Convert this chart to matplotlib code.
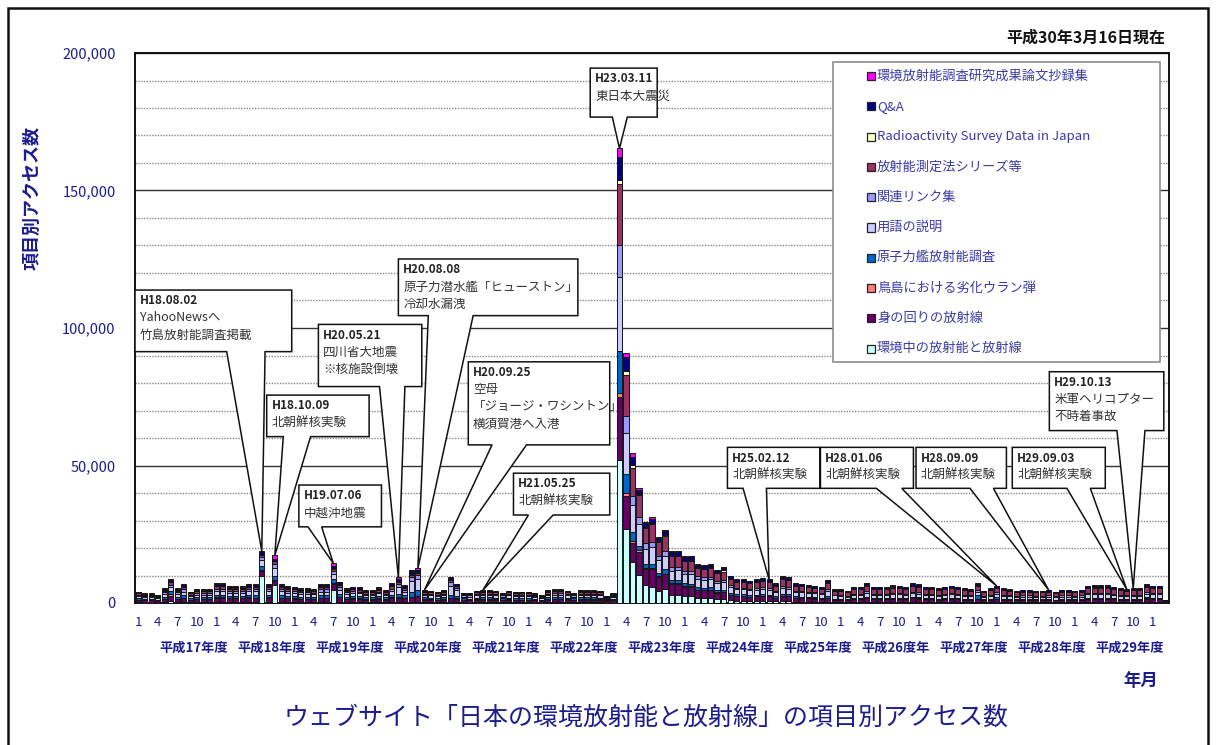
import matplotlib
matplotlib.use("Agg")
import matplotlib.pyplot as plt
from matplotlib.patches import Rectangle, Polygon

plt.rcParams["font.family"] = ["Noto Sans CJK JP", "DejaVu Sans"]

W, H = 1217, 745

# monthly page views, Jan 2005 (H17.01) .. Mar 2018 (H30.03), one line per calendar year
env_radiation = [  # 環境中の放射能と放射線
    200, 180, 170, 150, 270, 900, 270, 350, 200, 250, 240, 260,
    360, 350, 310, 300, 320, 350, 340, 9800, 350, 6500, 340, 310,
    300, 270, 260, 250, 340, 350, 4800, 500, 270, 290, 280, 240,
    230, 290, 240, 350, 500, 320, 400, 500, 220, 220, 200, 240,
    300, 300, 190, 180, 220, 240, 230, 230, 190, 220, 200, 210,
    200, 180, 150, 230, 250, 250, 220, 190, 230, 240, 230, 220,
    130, 180, 52000, 27000, 15000, 10200, 6500, 6000, 4500, 5000, 3000, 3000,
    2500, 2400, 1900, 1800, 1800, 1400, 1400, 1000, 800, 800, 700, 750,
    750, 700, 550, 700, 650, 500, 450, 400, 380, 350, 400, 300,
    250, 230, 300, 300, 370, 300, 300, 290, 330, 310, 300, 360,
    350, 300, 290, 270, 300, 310, 300, 270, 250, 360, 230, 270,
    300, 270, 250, 230, 240, 240, 230, 230, 240, 210, 240, 240,
    230, 240, 310, 330, 330, 330, 300, 270, 250, 270, 270, 350,
    310, 310, 60,
]
daily_radiation = [  # 身の回りの放射線
    900, 770, 780, 640, 1170, 1800, 1170, 1500, 900, 1100, 1120, 1090,
    1560, 1570, 1360, 1370, 1350, 1520, 1510, 2000, 1520, 1500, 1530, 1360,
    1300, 1170, 1160, 1120, 1500, 1490, 2200, 1700, 1170, 1300, 1260, 1030,
    1040, 1250, 1030, 1560, 1500, 1430, 1800, 1900, 1040, 990, 900, 1030,
    1500, 1300, 840, 830, 990, 1030, 1040, 990, 840, 1000, 900, 900,
    910, 770, 640, 1030, 1100, 1100, 990, 840, 1040, 1030, 1040, 990,
    570, 770, 23000, 12000, 7000, 8500, 6000, 6500, 5000, 5500, 4000, 4000,
    3500, 3500, 2900, 2800, 2900, 2400, 2500, 2000, 1700, 1700, 1600, 1700,
    1800, 1700, 1400, 1900, 1800, 1400, 1350, 1300, 1250, 1150, 1500, 950,
    900, 810, 1060, 1060, 1330, 1060, 1060, 1030, 1170, 1120, 1060, 1280,
    1240, 1060, 1030, 950, 1060, 1120, 1060, 950, 900, 1200, 810, 950,
    1000, 950, 900, 810, 850, 850, 810, 810, 850, 740, 850, 850,
    810, 850, 1120, 1170, 1170, 1170, 1060, 950, 900, 950, 950, 1240,
    1120, 1120, 200,
]
torishima_du = [  # 鳥島における劣化ウラン弾
    80, 70, 60, 60, 110, 400, 100, 140, 80, 100, 90, 100,
    140, 140, 120, 130, 120, 140, 140, 300, 140, 300, 130, 120,
    120, 100, 110, 100, 140, 130, 200, 150, 100, 120, 110, 90,
    90, 110, 100, 140, 150, 130, 150, 150, 90, 90, 80, 90,
    100, 100, 80, 70, 90, 90, 100, 90, 80, 90, 80, 80,
    80, 70, 60, 90, 100, 100, 90, 80, 90, 100, 90, 90,
    50, 70, 1500, 1000, 500, 400, 300, 300, 200, 200, 200, 150,
    150, 150, 100, 100, 100, 100, 100, 80, 70, 60, 60, 60,
    70, 60, 50, 70, 70, 50, 50, 50, 50, 40, 50, 40,
    50, 50, 60, 60, 70, 60, 60, 60, 70, 60, 60, 70,
    70, 60, 60, 50, 60, 60, 60, 50, 50, 70, 50, 50,
    60, 50, 50, 50, 50, 50, 50, 50, 50, 40, 50, 50,
    50, 50, 60, 70, 70, 70, 60, 50, 50, 50, 50, 70,
    60, 60, 10,
]
nuclear_ship = [  # 原子力艦放射能調査
    570, 490, 500, 410, 740, 1300, 750, 950, 570, 700, 690, 710,
    1000, 990, 870, 860, 880, 970, 960, 1500, 960, 1700, 970, 870,
    830, 740, 750, 720, 950, 960, 1500, 1100, 740, 830, 800, 660,
    650, 800, 660, 1000, 1000, 910, 1600, 2000, 660, 630, 570, 660,
    900, 800, 530, 540, 630, 660, 650, 630, 530, 630, 570, 580,
    570, 490, 400, 660, 700, 700, 630, 530, 660, 650, 660, 630,
    360, 490, 15000, 7000, 3500, 1800, 1500, 1500, 1300, 1500, 1000, 1100,
    1000, 1000, 900, 850, 900, 750, 800, 600, 550, 550, 520, 550,
    600, 600, 480, 700, 650, 480, 470, 440, 430, 400, 600, 340,
    300, 270, 350, 350, 440, 350, 350, 340, 390, 370, 350, 430,
    410, 350, 340, 320, 350, 370, 350, 320, 300, 1200, 270, 320,
    900, 320, 300, 270, 280, 280, 270, 270, 280, 250, 280, 280,
    270, 280, 370, 390, 390, 390, 350, 320, 300, 320, 320, 410,
    370, 370, 70,
]
glossary = [  # 用語の説明
    740, 630, 620, 520, 950, 1400, 950, 1220, 740, 900, 910, 890,
    1280, 1270, 1120, 1110, 1120, 1240, 1250, 2000, 1240, 2800, 1240, 1120,
    1060, 950, 960, 920, 1220, 1230, 1800, 1400, 950, 1070, 1030, 850,
    850, 1030, 840, 1280, 2500, 1170, 4000, 4000, 850, 810, 740, 850,
    3500, 2200, 680, 690, 810, 850, 840, 810, 680, 800, 740, 730,
    740, 630, 520, 850, 900, 900, 810, 680, 850, 850, 840, 810,
    470, 630, 27000, 15000, 9500, 8000, 5500, 6000, 4500, 5000, 3500, 3600,
    3300, 3400, 2900, 2800, 2900, 2500, 2700, 2000, 1800, 1800, 1700, 1800,
    1900, 1800, 1500, 2100, 2000, 1500, 1500, 1400, 1350, 1300, 1900, 1100,
    1000, 900, 1180, 1180, 1480, 1180, 1180, 1140, 1300, 1240, 1180, 1420,
    1380, 1180, 1140, 1060, 1180, 1240, 1180, 1060, 1000, 1300, 900, 1060,
    1150, 1060, 1000, 900, 940, 940, 900, 900, 940, 820, 940, 940,
    900, 940, 1240, 1300, 1300, 1300, 1180, 1060, 1000, 1060, 1060, 1380,
    1240, 1240, 220,
]
links = [  # 関連リンク集
    490, 420, 420, 350, 640, 900, 640, 820, 490, 600, 590, 610,
    850, 860, 740, 750, 740, 830, 830, 1000, 830, 1500, 820, 740,
    710, 640, 630, 610, 820, 810, 1100, 900, 640, 710, 680, 560,
    570, 680, 560, 850, 1200, 780, 1500, 1600, 560, 540, 490, 560,
    1200, 900, 460, 450, 540, 560, 570, 540, 460, 540, 490, 490,
    490, 420, 350, 570, 600, 600, 540, 460, 560, 570, 560, 540,
    310, 420, 11500, 6000, 3500, 2500, 2000, 2000, 1700, 1800, 1300, 1300,
    1200, 1200, 1000, 950, 1000, 850, 900, 700, 600, 620, 580, 620,
    650, 600, 500, 700, 650, 500, 480, 450, 440, 410, 600, 350,
    400, 360, 470, 470, 590, 470, 470, 460, 520, 500, 470, 570,
    550, 470, 460, 420, 470, 500, 470, 420, 400, 500, 360, 420,
    450, 420, 400, 360, 380, 380, 360, 360, 380, 330, 380, 380,
    360, 380, 500, 520, 520, 520, 470, 420, 400, 420, 420, 550,
    500, 500, 90,
]
measurement_series = [  # 放射能測定法シリーズ等
    490, 420, 410, 350, 640, 900, 640, 820, 490, 600, 610, 590,
    850, 850, 740, 750, 740, 830, 830, 800, 830, 800, 830, 740,
    710, 640, 640, 610, 820, 810, 900, 900, 640, 700, 680, 560,
    560, 690, 570, 850, 900, 780, 900, 900, 560, 540, 490, 560,
    800, 600, 460, 460, 540, 560, 560, 540, 460, 540, 490, 490,
    490, 420, 350, 560, 600, 600, 540, 460, 560, 560, 570, 540,
    310, 420, 22500, 15000, 10000, 7800, 5500, 6500, 4900, 5400, 4000, 3900,
    3600, 3600, 3200, 3000, 3200, 2800, 3000, 2400, 2100, 2100, 2000, 2150,
    2250, 2150, 1800, 2500, 2400, 1850, 1800, 1700, 1650, 1550, 2350, 1330,
    1400, 1260, 1650, 1650, 2070, 1650, 1650, 1590, 1820, 1730, 1650, 1980,
    1930, 1650, 1590, 1480, 1650, 1730, 1650, 1480, 1400, 1700, 1260, 1480,
    1550, 1480, 1400, 1260, 1310, 1310, 1260, 1260, 1310, 1140, 1310, 1310,
    1260, 1310, 1730, 1820, 1820, 1820, 1650, 1480, 1400, 1480, 1480, 1930,
    1730, 1730, 300,
]
survey_data_en = [  # Radioactivity Survey Data in Japan
    40, 40, 30, 30, 50, 100, 50, 70, 40, 50, 50, 50,
    70, 70, 60, 60, 60, 70, 70, 100, 70, 100, 70, 60,
    60, 50, 50, 50, 70, 70, 100, 80, 50, 60, 60, 50,
    50, 60, 40, 70, 80, 60, 100, 100, 50, 40, 40, 50,
    80, 60, 40, 40, 50, 50, 50, 40, 40, 50, 40, 40,
    40, 30, 30, 50, 50, 50, 40, 40, 50, 40, 50, 50,
    30, 30, 1500, 1500, 1100, 400, 300, 300, 300, 300, 200, 200,
    200, 200, 150, 150, 150, 150, 600, 100, 80, 70, 70, 70,
    80, 70, 60, 80, 80, 60, 60, 50, 50, 50, 100, 40,
    50, 40, 60, 60, 80, 60, 60, 50, 60, 60, 60, 70,
    70, 60, 50, 50, 60, 60, 60, 50, 50, 70, 40, 50,
    60, 50, 50, 40, 50, 50, 40, 40, 50, 40, 50, 50,
    40, 50, 60, 60, 60, 60, 60, 50, 50, 50, 50, 70,
    60, 60, 10,
]
qa = [  # Q&A
    410, 350, 360, 290, 530, 700, 530, 680, 410, 500, 500, 500,
    710, 710, 620, 620, 610, 690, 700, 900, 690, 700, 690, 620,
    590, 530, 530, 510, 680, 680, 1000, 780, 530, 590, 570, 470,
    470, 570, 470, 710, 1000, 650, 1100, 1000, 470, 450, 410, 470,
    700, 570, 380, 380, 450, 470, 470, 450, 380, 450, 410, 410,
    410, 350, 290, 470, 500, 500, 450, 380, 470, 470, 470, 450,
    260, 350, 8300, 5000, 3100, 1600, 1500, 1500, 1300, 1400, 1400, 1400,
    1200, 1200, 950, 950, 950, 800, 900, 800, 700, 700, 680, 700,
    700, 720, 600, 850, 800, 600, 580, 560, 550, 510, 700, 430,
    500, 450, 590, 590, 740, 590, 590, 570, 650, 620, 590, 710,
    690, 590, 570, 530, 590, 620, 590, 530, 500, 550, 450, 530,
    570, 530, 500, 450, 470, 470, 450, 450, 470, 410, 470, 470,
    450, 470, 620, 650, 650, 650, 590, 530, 500, 530, 530, 690,
    620, 620, 110,
]
abstracts = [  # 環境放射能調査研究成果論文抄録集
    160, 140, 140, 110, 210, 300, 200, 270, 160, 200, 200, 190,
    280, 290, 250, 250, 240, 270, 280, 400, 270, 1400, 280, 260,
    220, 210, 210, 210, 260, 270, 800, 290, 210, 230, 230, 190,
    190, 220, 190, 290, 470, 270, 450, 450, 200, 190, 180, 190,
    220, 170, 140, 160, 180, 190, 190, 180, 140, 180, 180, 170,
    170, 140, 110, 190, 200, 200, 190, 140, 190, 190, 190, 180,
    110, 140, 3000, 1300, 1200, 500, 500, 500, 400, 400, 400, 350,
    350, 350, 300, 300, 300, 250, 300, 220, 200, 200, 190, 200,
    200, 200, 160, 200, 200, 160, 160, 150, 150, 140, 200, 120,
    150, 130, 180, 180, 220, 180, 180, 170, 190, 190, 180, 210,
    200, 180, 170, 170, 180, 190, 180, 170, 150, 150, 130, 170,
    160, 170, 150, 130, 130, 130, 130, 130, 130, 120, 130, 130,
    130, 130, 190, 190, 190, 190, 180, 170, 150, 170, 170, 200,
    190, 190, 30,
]

# stacking order, bottom first
series = [env_radiation, daily_radiation, torishima_du, nuclear_ship, glossary,
          links, measurement_series, survey_data_en, qa, abstracts]
series_names = ["環境中の放射能と放射線", "身の回りの放射線", "鳥島における劣化ウラン弾",
                "原子力艦放射能調査", "用語の説明", "関連リンク集", "放射能測定法シリーズ等",
                "Radioactivity Survey Data in Japan", "Q&A", "環境放射能調査研究成果論文抄録集"]
series_colors = ["#CCFFFF", "#660066", "#FF8080", "#0066CC", "#CCCCFF",
                 "#9999FF", "#993366", "#FFFFCC", "#000080", "#FF00FF"]

n_months = 159
for s in series:
    assert len(s) == n_months, len(s)

tick_months = [1, 4, 7, 10]
fiscal_labels = ["平成17年度", "平成18年度", "平成19年度", "平成20年度", "平成21年度",
                 "平成22年度", "平成23年度", "平成24年度", "平成25年度", "平成26度年",
                 "平成27年度", "平成28年度", "平成29年度"]

# (lines, bar index, box x0, x1, y_bottom, y_top, pointer base left, right)
events = [
    (["H18.08.02", "YahooNewsへ", "竹島放射能調査掲載"], 19, -0.5, 23.6, 91400, 113800, 13.6, 19.5),
    (["H18.10.09", "北朝鮮核実験"], 21, 19.75, 35.5, 60500, 75600, 22.3, 26.5),
    (["H19.07.06", "中越沖地震"], 30, 24.7, 37.4, 27700, 42900, 26.1, 28.2),
    (["H20.05.21", "四川省大地震", "※核施設倒壊"], 40, 27.7, 43.6, 78700, 101300, 37.1, 41.0),
    (["H20.08.08", "原子力潜水艦「ヒューストン」", "冷却水漏洩"], 43, 40.0, 67.6, 104500, 125100, 44.6, 51.5),
    (["H20.09.25", "空母", "「ジョージ・ワシントン」", "横須賀港へ入港"], 44, 50.75, 72.5, 57500, 87700, 54.4, 59.7),
    (["H21.05.25", "北朝鮮核実験"], 53, 57.7, 72.5, 32000, 47200, 60.0, 63.8),
    (["H23.03.11", "東日本大震災"], 74, 69.5, 79.8, 176700, 194500, 72.9, 75.2),
    (["H25.02.12", "北朝鮮核実験"], 97, 90.6, 104.8, 41700, 56600, 93.0, 96.6),
    (["H28.01.06", "北朝鮮核実験"], 132, 104.9, 119.2, 41700, 56600, 113.5, 117.4),
    (["H28.09.09", "北朝鮮核実験"], 140, 119.6, 133.5, 41700, 56600, 127.9, 131.5),
    (["H29.09.03", "北朝鮮核実験"], 152, 134.4, 148.7, 41700, 56600, 142.8, 146.4),
    (["H29.10.13", "米軍ヘリコプター", "不時着事故"], 153, 140.1, 157.7, 62700, 84100, 150.5, 154.8),
]

navy = "#1c1c8c"


def fx(px):
    return px / W


def fy(py):
    return 1 - py / H


fig = plt.figure(figsize=(W / 100, H / 100), dpi=100)
ax = fig.add_axes([fx(135), fy(603), (1169 - 135) / W, 550 / H])

x = list(range(n_months))
bottom = [0] * n_months
for vals, color in zip(series, series_colors):
    ax.bar(x, vals, width=0.78, bottom=bottom, color=color,
           edgecolor="#141414", linewidth=0.7, zorder=3)
    bottom = [b + v for b, v in zip(bottom, vals)]
totals = bottom

ax.set_xlim(-0.5, n_months - 0.5)
ax.set_ylim(0, 200000)
ax.set_yticks(range(0, 200001, 50000))
ax.set_yticklabels([f"{v:,}" for v in range(0, 200001, 50000)])
ax.set_yticks(range(0, 200001, 10000), minor=True)
ax.grid(axis="y", which="minor", color="#8a8a8a", linestyle=(0, (1, 1)), linewidth=1.0, zorder=1)
ax.grid(axis="y", which="major", color="#333333", linestyle="-", linewidth=1.0, zorder=1)
ax.tick_params(axis="y", which="both", length=0, pad=14, labelsize=10.5, labelcolor=navy)

xt = [i for i in x if (i % 12) + 1 in tick_months]
ax.set_xticks(xt)
ax.set_xticklabels([str((i % 12) + 1) for i in xt])
ax.tick_params(axis="x", length=0, pad=9, labelsize=9.5, labelcolor=navy)
for sp in ax.spines.values():
    sp.set_linewidth(1.4)
    sp.set_color("#111111")

# fiscal year labels (April - March)
trans = ax.get_xaxis_transform()
for k, lab in enumerate(fiscal_labels):
    ax.text(3 + 12 * k + 5.5, -0.082, lab, transform=trans, ha="center", va="center",
            fontsize=9.5, fontweight="bold", color=navy)

# callouts
for lines, idx, x0, x1, y0, y1, b0, b1 in events:
    pts = [(x0, y1), (x1, y1), (x1, y0), (b1, y0), (idx, totals[idx]), (b0, y0), (x0, y0)]
    ax.add_patch(Polygon(pts, closed=True, facecolor="white", edgecolor="#111111",
                         linewidth=1.1, zorder=5, clip_on=False))
    for k, line in enumerate(lines):
        ax.annotate(line, xy=(x0, y1), xytext=(3.5, -3 - 12.4 * k), textcoords="offset points",
                    ha="left", va="top", fontsize=8.5 if k == 0 else 9,
                    fontweight="bold" if k == 0 else "normal",
                    color="#222222" if k == 0 else "#333333", zorder=6)

# legend box
fig.add_artist(Rectangle((fx(833), fy(362)), (1160 - 833) / W, 300 / H, transform=fig.transFigure,
                         facecolor="white", edgecolor="#8c8c8c", linewidth=1.2, zorder=7))
for k, si in enumerate(reversed(range(len(series)))):
    yc = 76 + 30.3 * k
    fig.add_artist(Rectangle((fx(867), fy(yc + 4)), 8 / W, 8 / H, transform=fig.transFigure,
                             facecolor=series_colors[si], edgecolor="#222222", linewidth=0.9, zorder=8))
    t = fig.text(fx(877), fy(yc), series_names[si], fontsize=9.5, color="#3a3aa8",
                 ha="left", va="center")
    t.set_zorder(8)

fig.text(fx(1165), fy(38), "平成30年3月16日現在", ha="right", va="center",
         fontsize=11.5, fontweight="bold", color="#111111")
fig.text(fx(32), fy(198), "項目別アクセス数", rotation=90, ha="center", va="center",
         fontsize=13, fontweight="bold", color=navy)
fig.text(fx(1141), fy(681), "年月", ha="center", va="center", fontsize=12.5,
         fontweight="bold", color=navy)
fig.text(fx(646), fy(718), "ウェブサイト「日本の環境放射能と放射線」の項目別アクセス数",
         ha="center", va="center", fontsize=18, color=navy)

# outer frame
fig.add_artist(Rectangle((fx(8), -0.05), (1208 - 8) / W, fy(8) + 0.05, transform=fig.transFigure,
                         facecolor="none", edgecolor="#111111", linewidth=1.8, zorder=10))

fig.savefig("out.png", dpi=100)
